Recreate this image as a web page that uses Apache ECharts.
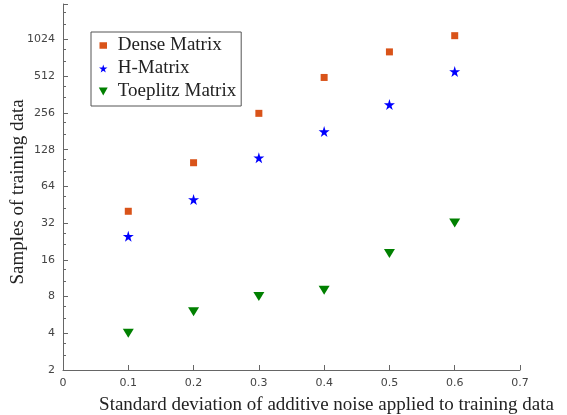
<!DOCTYPE html>
<html>
<head>
<meta charset="utf-8">
<script src="https://cdn.jsdelivr.net/npm/echarts@6/dist/echarts.min.js"></script>
<style>
  html, body { margin: 0; padding: 0; background: #fff; }
  #chart { width: 567px; height: 415px; }
</style>
</head>
<body>
<div id="chart"></div>
<script>
// noise levels (x) and samples needed (y)
var noiseLevels = [0.1, 0.2, 0.3, 0.4, 0.5, 0.6];
var denseSamples = [40, 100, 254, 500, 810, 1100];
var hSamples = [25, 50, 110, 180, 300, 560];
var toeplitzSamples = [4, 6, 8, 9, 18, 32];
var seriesNames = ['Dense Matrix', 'H-Matrix', 'Toeplitz Matrix'];

var starPath = 'path://M50,0 L61,35 L98,35 L68,57 L79,91 L50,70 L21,91 L32,57 L2,35 L39,35 Z';
var triDownPath = 'path://M0,0 L10,0 L5,9 Z';

function pairs(ys) {
  return noiseLevels.map(function (x, i) { return [x, ys[i]]; });
}

var chart = echarts.init(document.getElementById('chart'));

var axisColor = '#666';
var tickFont = { color: '#444', fontSize: 11, fontFamily: 'DejaVu Sans' };
var serif = 'Liberation Serif';

chart.setOption({
  animation: false,
  grid: { left: 63, top: 4, right: 47, bottom: 45, outerBoundsMode: 'none', containLabel: false },
  legend: {
    orient: 'vertical',
    left: 91,
    top: 32,
    padding: [4, 5, 5, 7],
    itemGap: 4,
    itemWidth: 9,
    itemHeight: 8,
    backgroundColor: '#fff',
    borderColor: '#555',
    borderWidth: 1,
    borderRadius: 0,
    textStyle: { fontFamily: serif, fontSize: 19, color: '#222', padding: [0, 0, 0, 5] },
    data: [
      { name: seriesNames[0], icon: 'rect', itemStyle: { borderWidth: 1.5, borderColor: '#fff' } },
      { name: seriesNames[1], icon: starPath },
      { name: seriesNames[2], icon: triDownPath }
    ]
  },
  xAxis: {
    type: 'value',
    min: 0,
    max: 0.7,
    interval: 0.1,
    name: 'Standard deviation of additive noise applied to training data',
    nameLocation: 'middle',
    nameGap: 26,
    nameMoveOverlap: false,
    nameTextStyle: { fontFamily: serif, fontSize: 19, color: '#222', padding: [0, 0, 0, 70] },
    axisLine: { lineStyle: { color: axisColor } },
    axisTick: { inside: true, length: 5, lineStyle: { color: axisColor } },
    axisLabel: tickFont,
    splitLine: { show: false }
  },
  yAxis: {
    type: 'log',
    logBase: 2,
    min: 2,
    max: 2000,
    name: 'Samples of training data',
    nameLocation: 'middle',
    nameGap: 35,
    nameMoveOverlap: false,
    nameTextStyle: { fontFamily: serif, fontSize: 19, color: '#222', padding: [0, 10, 0, 0] },
    axisLine: { show: true, lineStyle: { color: axisColor } },
    axisTick: { inside: true, length: 5, lineStyle: { color: axisColor } },
    minorTick: { show: true, splitNumber: 3, length: 3, lineStyle: { color: axisColor } },
    axisLabel: Object.assign({
      showMaxLabel: false,
      formatter: function (v) {
        var e = Math.log(v) / Math.log(2);
        return Math.abs(e - Math.round(e)) < 1e-6 ? String(Math.round(v)) : '';
      }
    }, tickFont),
    splitLine: { show: false }
  },
  series: [
    {
      name: seriesNames[0],
      type: 'scatter',
      symbol: 'rect',
      symbolSize: 7,
      itemStyle: { color: '#d95319', opacity: 1 },
      data: pairs(denseSamples)
    },
    {
      name: seriesNames[1],
      type: 'scatter',
      symbol: starPath,
      symbolSize: 11,
      itemStyle: { color: '#0000ff', opacity: 1 },
      data: pairs(hSamples)
    },
    {
      name: seriesNames[2],
      type: 'scatter',
      symbol: triDownPath,
      symbolSize: [11, 9],
      itemStyle: { color: '#008000', opacity: 1 },
      data: pairs(toeplitzSamples)
    }
  ]
});
</script>
</body>
</html>
